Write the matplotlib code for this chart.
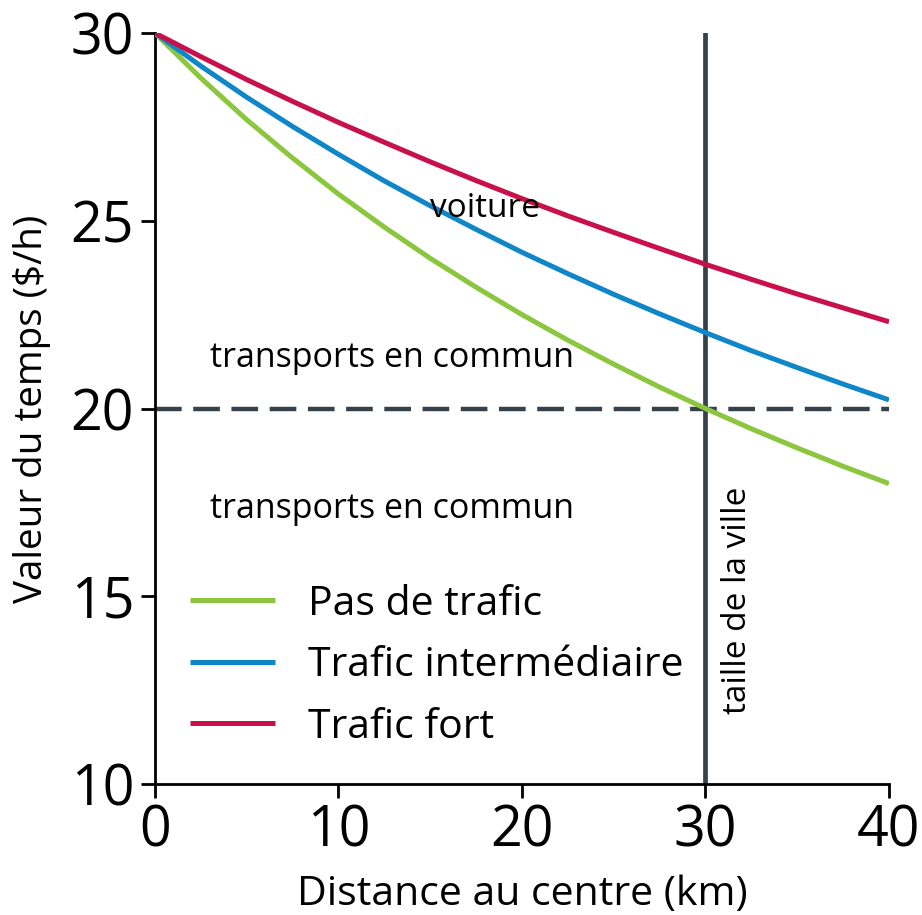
import matplotlib
matplotlib.use("Agg")
import matplotlib.pyplot as plt

plt.rcParams['font.family'] = ['Open Sans', 'DejaVu Sans']

distance = [0, 2.5, 5, 7.5, 10, 12.5, 15, 17.5, 20, 22.5, 25, 27.5, 30, 32.5, 35, 37.5, 40]
pas_de_trafic = [30.00, 28.80, 27.69, 26.67, 25.71, 24.83, 24.00, 23.23, 22.50, 21.82,
                 21.18, 20.57, 20.00, 19.46, 18.95, 18.46, 18.00]
trafic_inter = [30.00, 29.12, 28.29, 27.51, 26.77, 26.06, 25.40, 24.77, 24.16, 23.59,
                23.04, 22.52, 22.02, 21.54, 21.09, 20.65, 20.23]
trafic_fort = [30.00, 29.37, 28.76, 28.18, 27.62, 27.09, 26.57, 26.07, 25.59, 25.13,
               24.69, 24.26, 23.84, 23.44, 23.05, 22.68, 22.31]
labels = ["Pas de trafic", "Trafic intermédiaire", "Trafic fort"]
colors = ["#8cc63f", "#0f86c8", "#c8104a"]
seuil_tc = 20
taille_ville = 30
xticks = [0, 10, 20, 30, 40]
yticks = [10, 15, 20, 25, 30]

dark = "#36414a"

fig = plt.figure(figsize=(9.22, 9.15), dpi=100)
ax = fig.add_axes([0.1681, 0.1432, 0.7961, 0.8207])

ax.axhline(seuil_tc, color=dark, lw=3.2, dashes=(6, 2.6), zorder=2)
ax.axvline(taille_ville, color=dark, lw=3.4, zorder=2)

for ys, lab, c in zip([pas_de_trafic, trafic_inter, trafic_fort], labels, colors):
    ax.plot(distance, ys, color=c, lw=3.6, label=lab, zorder=3, solid_capstyle='butt')

ax.set_xlim(0, 40)
ax.set_ylim(10, 30)
ax.set_xticks(xticks)
ax.set_yticks(yticks)
ax.tick_params(axis='both', labelsize=40, width=2, length=10, direction='out', color='black', pad=4)
ax.tick_params(axis='y', pad=5)
for s in ['top', 'right']:
    ax.spines[s].set_visible(False)
for s in ['left', 'bottom']:
    ax.spines[s].set_linewidth(2)
ax.spines['left'].set_bounds(10, 30)
ax.spines['bottom'].set_bounds(0, 40)

ax.set_xlabel("Distance au centre (km)", fontsize=29.5, labelpad=10)
ax.set_ylabel("Valeur du temps ($/h)", fontsize=27.8, labelpad=14)

ax.text(18, 25.34, "voiture", fontsize=24, ha='center', va='center')
ax.text(3, 21.35, "transports en commun", fontsize=24.5, ha='left', va='center')
ax.text(3, 17.32, "transports en commun", fontsize=24.5, ha='left', va='center')
ax.text(31.75, 14.9, "taille de la ville", fontsize=24, ha='center', va='center', rotation=90)

leg = ax.legend(loc='upper left', bbox_to_anchor=(0.0477, 0.266), frameon=False,
                fontsize=29.5, handlelength=2.07, handletextpad=0.8, labelspacing=0.51,
                borderpad=0, borderaxespad=0)
for h in leg.get_lines():
    h.set_linewidth(3.6)

fig.savefig("out.png", dpi=100)
